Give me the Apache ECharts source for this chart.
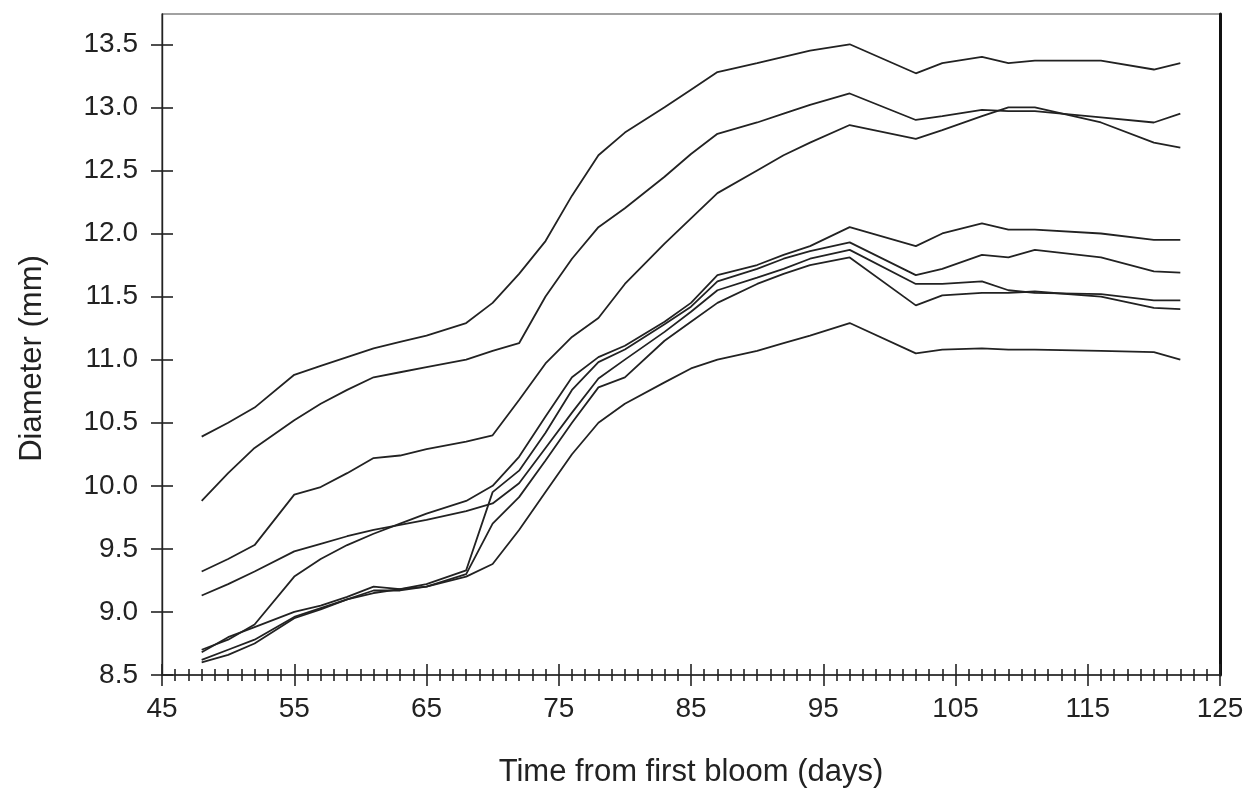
<!DOCTYPE html>
<html>
<head>
<meta charset="utf-8">
<style>
  html, body { margin: 0; padding: 0; background: #fff; }
  #chart { width: 1254px; height: 793px; }
</style>
<script src="https://cdn.jsdelivr.net/npm/echarts@6/dist/echarts.min.js"></script>
</head>
<body>
<div id="chart"></div>
<script>
// measurement days (time from first bloom)
const days = [48, 50, 52, 55, 57, 59, 61, 63, 65, 68, 70, 72, 74, 76, 78, 80, 83, 85, 87, 90, 92, 94, 97, 102, 104, 107, 109, 111, 116, 120, 122]

// diameter (mm) of each fruit, one array per line
const fruitA = [10.39, 10.5, 10.62, 10.88, 10.95, 11.02, 11.09, 11.14, 11.19, 11.29, 11.45, 11.68, 11.94, 12.3, 12.62, 12.8, 13.0, 13.14, 13.28, 13.35, 13.4, 13.45, 13.5, 13.27, 13.35, 13.4, 13.35, 13.37, 13.37, 13.3, 13.35]
const fruitB = [9.88, 10.1, 10.3, 10.52, 10.65, 10.76, 10.86, 10.9, 10.94, 11.0, 11.07, 11.13, 11.5, 11.8, 12.05, 12.2, 12.45, 12.63, 12.79, 12.88, 12.95, 13.02, 13.11, 12.9, 12.93, 12.98, 12.97, 12.97, 12.92, 12.88, 12.95]
const fruitC = [9.32, 9.42, 9.53, 9.93, 9.99, 10.1, 10.22, 10.24, 10.29, 10.35, 10.4, 10.68, 10.97, 11.18, 11.33, 11.6, 11.92, 12.12, 12.32, 12.5, 12.62, 12.72, 12.86, 12.75, 12.82, 12.93, 13.0, 13.0, 12.88, 12.72, 12.68]
const fruitD = [8.7, 8.78, 8.9, 9.28, 9.42, 9.53, 9.62, 9.7, 9.78, 9.88, 10.0, 10.23, 10.55, 10.86, 11.02, 11.11, 11.3, 11.45, 11.67, 11.75, 11.83, 11.9, 12.05, 11.9, 12.0, 12.08, 12.03, 12.03, 12.0, 11.95, 11.95]
const fruitE = [8.68, 8.8, 8.88, 9.0, 9.05, 9.12, 9.2, 9.18, 9.22, 9.33, 9.95, 10.12, 10.42, 10.76, 10.98, 11.08, 11.28, 11.42, 11.62, 11.72, 11.8, 11.86, 11.93, 11.67, 11.72, 11.83, 11.81, 11.87, 11.81, 11.7, 11.69]
const fruitF = [9.13, 9.22, 9.32, 9.48, 9.54, 9.6, 9.65, 9.69, 9.73, 9.8, 9.86, 10.02, 10.3, 10.58, 10.85, 11.0, 11.22, 11.38, 11.55, 11.65, 11.72, 11.8, 11.87, 11.6, 11.6, 11.62, 11.55, 11.53, 11.52, 11.47, 11.47]
const fruitG = [8.62, 8.7, 8.78, 8.96, 9.03, 9.1, 9.17, 9.17, 9.2, 9.3, 9.7, 9.91, 10.2, 10.5, 10.78, 10.86, 11.15, 11.3, 11.45, 11.6, 11.68, 11.75, 11.81, 11.43, 11.51, 11.53, 11.53, 11.54, 11.5, 11.41, 11.4]
const fruitH = [8.6, 8.66, 8.75, 8.95, 9.02, 9.1, 9.15, 9.18, 9.2, 9.28, 9.38, 9.65, 9.95, 10.25, 10.5, 10.65, 10.82, 10.93, 11.0, 11.07, 11.13, 11.19, 11.29, 11.05, 11.08, 11.09, 11.08, 11.08, 11.07, 11.06, 11.0]

const fruits = [fruitA, fruitB, fruitC, fruitD, fruitE, fruitF, fruitG, fruitH]

const yTicks = [8.5, 9.0, 9.5, 10.0, 10.5, 11.0, 11.5, 12.0, 12.5, 13.0, 13.5]

const chart = echarts.init(document.getElementById('chart'))

const font = 'Liberation Sans, Arial, sans-serif'
const ink = '#222'

const xBase = {
    type: 'value',
    min: 45,
    max: 125,
    interval: 10,
    position: 'bottom',
    splitLine: { show: false }
}

const option = {
    animation: false,
    grid: {
        left: 162,
        right: 34,
        top: 14,
        bottom: 118,
        show: true,
        borderColor: '#444',
        borderWidth: 1.2
    },
    xAxis: [
        {
            ...xBase,
            name: 'Time from first bloom (days)',
            nameLocation: 'middle',
            nameGap: 82,
            nameTextStyle: { fontFamily: font, fontSize: 31, color: ink },
            axisLine: { lineStyle: { color: ink, width: 1.6 } },
            axisTick: { length: 11, lineStyle: { color: ink, width: 1.6 } },
            minorTick: { show: true, splitNumber: 10, length: 6, lineStyle: { color: ink, width: 1.6 } },
            axisLabel: { margin: 20, fontFamily: font, fontSize: 28, color: ink }
        },
        {
            ...xBase,
            axisLine: { show: false },
            axisTick: { inside: true, length: 11, lineStyle: { color: ink, width: 1.6 } },
            minorTick: { show: true, splitNumber: 10, length: 6, lineStyle: { color: ink, width: 1.6 } },
            axisLabel: { show: false }
        }
    ],
    yAxis: [
        {
            type: 'value',
            min: 8.5,
            max: 13.74,
            position: 'left',
            splitLine: { show: false },
            name: 'Diameter (mm)',
            nameLocation: 'middle',
            nameGap: 114,
            nameTextStyle: { fontFamily: font, fontSize: 31, color: ink, padding: [0, 28, 0, 0] },
            axisLine: { show: true, lineStyle: { color: ink, width: 1.4 } },
            axisTick: { show: true, customValues: yTicks, length: 11, lineStyle: { color: ink, width: 1.6 } },
            axisLabel: {
                customValues: yTicks,
                margin: 24,
                fontFamily: font,
                fontSize: 28,
                color: ink,
                formatter: v => v.toFixed(1)
            }
        },
        {
            type: 'value',
            min: 8.5,
            max: 13.74,
            position: 'left',
            splitLine: { show: false },
            axisLine: { show: false },
            axisTick: { show: true, inside: true, customValues: yTicks, length: 11, lineStyle: { color: ink, width: 1.6 } },
            axisLabel: { show: false }
        },
        {
            type: 'value',
            min: 8.5,
            max: 13.74,
            position: 'right',
            splitLine: { show: false },
            axisLine: { show: true, lineStyle: { color: '#111', width: 3 } },
            axisTick: { show: false },
            axisLabel: { show: false }
        }
    ],
    series: fruits.map(vals => ({
        type: 'line',
        xAxisIndex: 0,
        yAxisIndex: 0,
        data: days.map((d, i) => [d, vals[i]]),
        symbol: 'none',
        clip: false,
        lineStyle: { color: ink, width: 1.8 }
    }))
}

chart.setOption(option)
</script>
</body>
</html>
